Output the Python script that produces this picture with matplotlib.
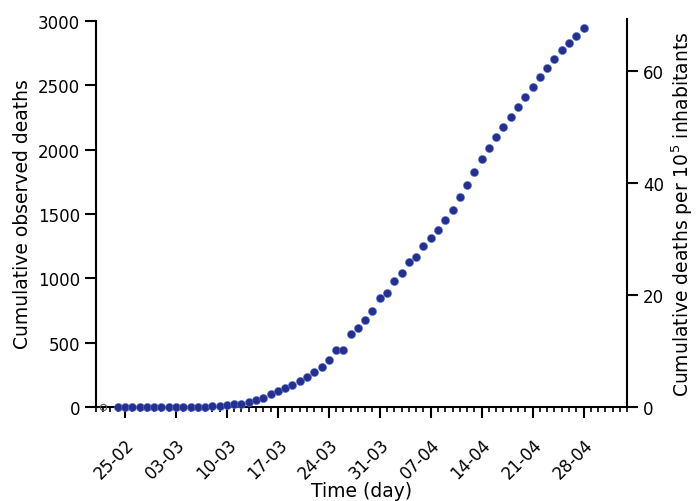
import matplotlib
matplotlib.use('Agg')
import matplotlib.pyplot as plt
import matplotlib.dates as mdates
import matplotlib.transforms as mtransforms
import pandas as pd

# cumulative observed deaths, one value per day from 24-02-2020 to 28-04-2020
dates = pd.date_range('2020-02-24', '2020-04-28', freq='D')
deaths = [0, 0, 0, 0, 0, 0, 0, 0, 0, 0, 0,
          1, 2, 5, 8, 13, 21, 25, 43, 56, 74, 105, 129, 147, 172, 202, 231,
          274, 309, 368, 443, 443, 565, 612, 678, 744, 849,
          884, 979, 1039, 1127, 1166, 1249, 1316, 1376, 1453, 1531, 1632,
          1728, 1826, 1927, 2015, 2096, 2174, 2256, 2334, 2412, 2487, 2562,
          2635, 2705, 2772, 2829, 2883, 2943]
# first record (hollow marker)
first_date = pd.Timestamp('2020-02-22')
first_value = 0
population = 4356406

left_ticks = [0, 500, 1000, 1500, 2000, 2500, 3000]
right_ticks = [0, 20, 40, 60]

fig = plt.figure(figsize=(7, 5.02), dpi=100)
ax = fig.add_axes([0.137, 0.187, 0.759, 0.773])

ax.scatter(dates, deaths, s=34, color='#282d8f', edgecolors='#4a7fd0',
           linewidths=0.4, zorder=3, clip_on=False)
ax.plot([first_date], [first_value], 'o', mfc='none', mec='#555555',
        ms=4.5, mew=0.8, zorder=3, clip_on=False)

ymax = 3015
ax.set_ylim(0, ymax)
ax.set_xlim(pd.Timestamp('2020-02-21'), pd.Timestamp('2020-05-04'))
ax.set_yticks(left_ticks)

ax.xaxis.set_major_locator(mdates.WeekdayLocator(byweekday=mdates.TU))
ax.xaxis.set_minor_locator(mdates.DayLocator())
ax.xaxis.set_major_formatter(mdates.DateFormatter('%d-%m'))

# shift rotated date labels a little to the right
shift = mtransforms.ScaledTranslation(4 / 72, -2 / 72, fig.dpi_scale_trans)
for lab in ax.get_xticklabels():
    lab.set_rotation(45)
    lab.set_ha('right')
    lab.set_rotation_mode('anchor')
    lab.set_transform(lab.get_transform() + shift)

ax.spines['top'].set_visible(False)
ax.spines['right'].set_visible(False)
ax.spines['left'].set_bounds(0, 3000)
for s in ['left', 'bottom']:
    ax.spines[s].set_linewidth(1.5)

ax.tick_params(axis='both', which='major', length=8, width=1.5, labelsize=12)
ax.tick_params(axis='x', which='major', pad=12)
ax.tick_params(axis='x', which='minor', length=3.5, width=1.2)

ax.set_xlabel('Time (day)', fontsize=13.5, va='top')
ax.xaxis.set_label_coords(0.5, -0.191)
ax.set_ylabel('Cumulative observed deaths', fontsize=13.5)

ax2 = ax.twinx()
ax2.set_position(ax.get_position())
ax2.set_ylim(0, ymax / population * 1e5)
ax2.set_yticks(right_ticks)
for s in ['top', 'left', 'bottom']:
    ax2.spines[s].set_visible(False)
ax2.spines['right'].set_linewidth(1.5)
ax2.tick_params(axis='y', length=8, width=1.5, labelsize=12)
ax2.set_ylabel('Cumulative deaths per 10$^5$ inhabitants', fontsize=13.5)

fig.savefig('out.png', dpi=100)
